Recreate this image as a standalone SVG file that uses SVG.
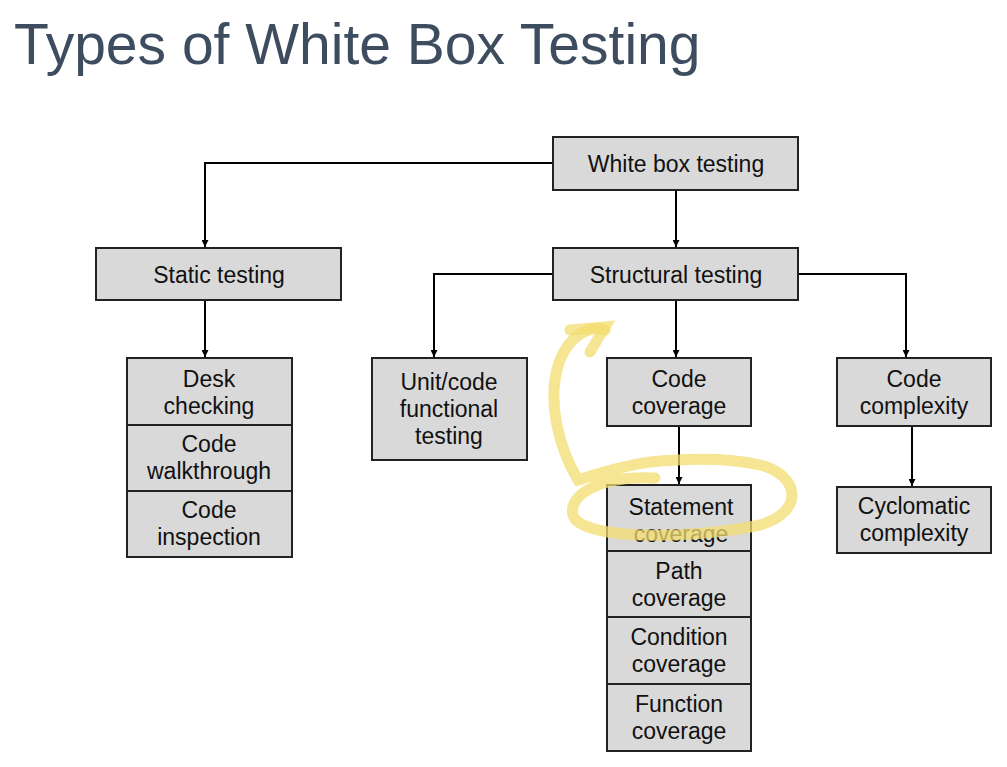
<svg xmlns="http://www.w3.org/2000/svg" width="1007" height="767" viewBox="0 0 1007 767">
<defs>
<marker id="ah" viewBox="0 0 10 10" refX="10" refY="5" markerWidth="7" markerHeight="7" orient="auto" markerUnits="userSpaceOnUse"><path d="M0,0L10,5L0,10z" fill="#000"/></marker>
<style>
.b{fill:#d9d9d9;stroke:#222;stroke-width:2}
.t{font-family:"Liberation Sans",Arial,sans-serif;font-size:23px;fill:#111;text-anchor:middle}
.c{fill:none;stroke:#000;stroke-width:2;marker-end:url(#ah)}
.hl{fill:none;stroke:#f3dc6e;stroke-width:11;stroke-linecap:round;opacity:0.75}
</style>
</defs>
<rect width="1007" height="767" fill="#fff"/>
<text x="14" y="64" font-family="Liberation Sans,Arial,sans-serif" font-size="57" fill="#3e4c60">Types of White Box Testing</text>
<g id="connectors">
<path class="c" d="M553,163H205V247"/>
<path class="c" d="M676,190V247"/>
<path class="c" d="M205,300V357"/>
<path class="c" d="M553,274H434V357"/>
<path class="c" d="M676,300V357"/>
<path class="c" d="M798,274H906V357"/>
<path class="c" d="M679,426V484"/>
<path class="c" d="M912,426V486"/>
</g>
<g id="white-box"><rect class="b" x="553" y="137" width="245" height="53"/><text class="t" x="676" y="172">White box testing</text></g>
<g id="static"><rect class="b" x="96" y="248" width="245" height="52"/><text class="t" x="219" y="283">Static testing</text></g>
<g id="structural"><rect class="b" x="553" y="248" width="245" height="52"/><text class="t" x="676" y="283">Structural testing</text></g>
<g id="desk"><rect class="b" x="127" y="358" width="165" height="67"/><text class="t" x="209" y="387">Desk</text><text class="t" x="209" y="414">checking</text></g>
<g id="walkthrough"><rect class="b" x="127" y="425" width="165" height="66"/><text class="t" x="209" y="452">Code</text><text class="t" x="209" y="479">walkthrough</text></g>
<g id="inspection"><rect class="b" x="127" y="491" width="165" height="66"/><text class="t" x="209" y="518">Code</text><text class="t" x="209" y="545">inspection</text></g>
<g id="unit"><rect class="b" x="372" y="358" width="155" height="102"/><text class="t" x="449" y="390">Unit/code</text><text class="t" x="449" y="417">functional</text><text class="t" x="449" y="444">testing</text></g>
<g id="code-coverage"><rect class="b" x="607" y="358" width="144" height="68"/><text class="t" x="679" y="387">Code</text><text class="t" x="679" y="414">coverage</text></g>
<g id="code-complexity"><rect class="b" x="837" y="358" width="154" height="68"/><text class="t" x="914" y="387">Code</text><text class="t" x="914" y="414">complexity</text></g>
<g id="statement"><rect class="b" x="607" y="485" width="144" height="66"/><text class="t" x="681" y="515">Statement</text><text class="t" x="681" y="542">coverage</text></g>
<g id="path"><rect class="b" x="607" y="551" width="144" height="66"/><text class="t" x="679" y="579">Path</text><text class="t" x="679" y="606">coverage</text></g>
<g id="condition"><rect class="b" x="607" y="617" width="144" height="67"/><text class="t" x="679" y="645">Condition</text><text class="t" x="679" y="672">coverage</text></g>
<g id="function"><rect class="b" x="607" y="684" width="144" height="67"/><text class="t" x="679" y="712">Function</text><text class="t" x="679" y="739">coverage</text></g>
<g id="cyclomatic"><rect class="b" x="837" y="487" width="154" height="66"/><text class="t" x="914" y="514">Cyclomatic</text><text class="t" x="914" y="541">complexity</text></g>
<g id="highlight">
<path class="hl" d="M655,478C600,475 568,495 573,515C580,540 690,540 760,525C805,512 800,475 760,465C730,458 690,458 650,462C620,466 595,475 578,480C560,450 545,400 560,360C570,335 590,325 605,330"/>
<path class="hl" d="M570,330L605,327L590,352"/>
</g>
</svg>
